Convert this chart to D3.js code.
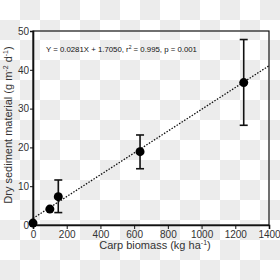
<!DOCTYPE html>
<html><head><meta charset="utf-8">
<script src="https://cdn.jsdelivr.net/npm/d3@7"></script>
<style>html,body{margin:0;padding:0;background:#fff;}svg{display:block;font-family:"Liberation Sans",Arial,sans-serif;}</style>
</head><body>
<svg id="c" width="280" height="280"></svg>
<script>
const biomass = [0, 100, 150, 635, 1250];
const sediment = [0.5, 4.1, 7.3, 18.9, 36.7];
const errLow = [0.5, 4.1, 3.2, 14.5, 25.7];
const errHigh = [0.5, 4.1, 11.6, 23.2, 47.8];
const xTicks = [0, 200, 400, 600, 800, 1000, 1200, 1400];
const yTicks = [0, 10, 20, 30, 40, 50];
const slope = 0.0281, intercept = 1.7050;

const svg = d3.select("#c");
const defs = svg.append("defs");
const pat = defs.append("pattern").attr("id","chk").attr("width",40).attr("height",40).attr("patternUnits","userSpaceOnUse");
pat.append("rect").attr("width",40).attr("height",40).attr("fill","#fff");
pat.append("rect").attr("x",20).attr("y",0).attr("width",20).attr("height",20).attr("fill","#ececec");
pat.append("rect").attr("x",0).attr("y",20).attr("width",20).attr("height",20).attr("fill","#ececec");
svg.append("rect").attr("width",280).attr("height",280).attr("fill","url(#chk)");

const L = 33, R = 269, T = 31, B = 225;
const x = d3.scaleLinear().domain([0,1400]).range([L,R]);
const y = d3.scaleLinear().domain([0,50]).range([B,T]);

svg.append("rect").attr("x",L).attr("y",T).attr("width",R-L).attr("height",B-T)
  .attr("fill","none").attr("stroke","#111").attr("stroke-width",1.2);

const xa = svg.append("g").attr("transform",`translate(0,${B})`)
  .call(d3.axisBottom(x).tickValues(xTicks).tickSize(4).tickPadding(2).tickFormat(d3.format("d")));
const ya = svg.append("g").attr("transform",`translate(${L},0)`)
  .call(d3.axisLeft(y).tickValues(yTicks).tickSize(3).tickPadding(1).tickFormat(d3.format("d")));
[xa,ya].forEach(a=>{
  a.select(".domain").attr("stroke","#111").attr("stroke-width",1.6);
  a.selectAll(".tick line").attr("stroke","#111").attr("stroke-width",1);
  a.selectAll(".tick text").attr("fill","#333").style("font-size","10px").style("font-family","'Liberation Sans',Arial,sans-serif");
});

svg.append("line")
  .attr("x1",x(0)).attr("y1",y(intercept))
  .attr("x2",x(1400)).attr("y2",y(intercept+slope*1400))
  .attr("stroke","#111").attr("stroke-width",1.3).attr("stroke-dasharray","1.5,1.5");

const data = biomass.map((b,i)=>({b, v:sediment[i], lo:errLow[i], hi:errHigh[i]}));
const eb = svg.append("g").selectAll("g").data(data.filter(d=>d.hi>d.lo)).join("g");
eb.append("line").attr("x1",d=>x(d.b)).attr("x2",d=>x(d.b)).attr("y1",d=>y(d.lo)).attr("y2",d=>y(d.hi))
  .attr("stroke","#111").attr("stroke-width",1.6);
eb.append("line").attr("x1",d=>x(d.b)-4).attr("x2",d=>x(d.b)+4).attr("y1",d=>y(d.lo)).attr("y2",d=>y(d.lo))
  .attr("stroke","#111").attr("stroke-width",1.6);
eb.append("line").attr("x1",d=>x(d.b)-4).attr("x2",d=>x(d.b)+4).attr("y1",d=>y(d.hi)).attr("y2",d=>y(d.hi))
  .attr("stroke","#111").attr("stroke-width",1.6);

svg.append("g").selectAll("circle").data(data).join("circle")
  .attr("cx",d=>x(d.b)).attr("cy",d=>y(d.v)).attr("r",4.5).attr("fill","#000");

const eq = svg.append("text").attr("x",46).attr("y",52).attr("fill","#111").style("font-size","7.8px");
eq.append("tspan").text("Y  = 0.0281X + 1.7050, r");
eq.append("tspan").attr("dy",-3).style("font-size","5px").text("2");
eq.append("tspan").attr("dy",3).text(" = 0.995, p = 0.001");

const xt = svg.append("text").attr("x",(L+R)/2+4).attr("y",249).attr("text-anchor","middle")
  .attr("fill","#333").style("font-size","11px");
xt.append("tspan").text("Carp biomass (kg ha");
xt.append("tspan").attr("dy",-4).style("font-size","7px").text("-1");
xt.append("tspan").attr("dy",4).text(")");

const yt = svg.append("text").attr("transform","translate(12,125) rotate(-90)").attr("text-anchor","middle")
  .attr("fill","#333").style("font-size","11px");
yt.append("tspan").text("Dry sediment material (g m");
yt.append("tspan").attr("dy",-4).style("font-size","7px").text("-2");
yt.append("tspan").attr("dy",4).text(" d");
yt.append("tspan").attr("dy",-4).style("font-size","7px").text("-1");
yt.append("tspan").attr("dy",4).text(")");
</script>
</body></html>
